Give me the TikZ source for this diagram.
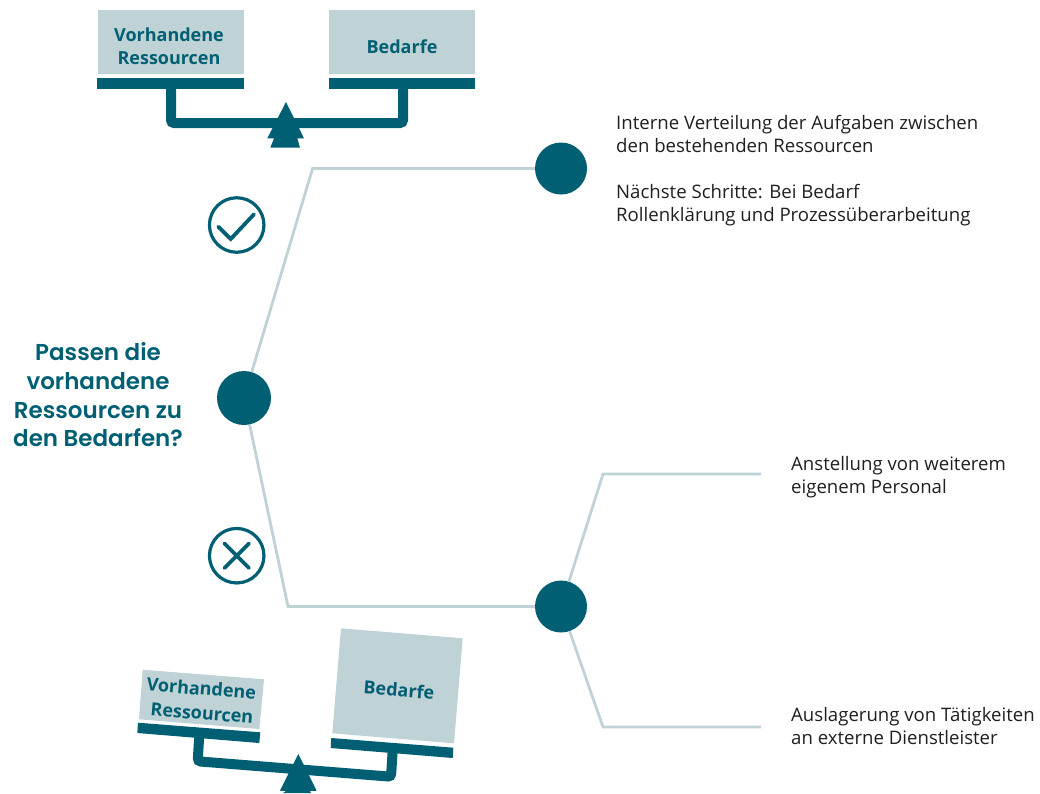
\documentclass[tikz,border=0pt]{standalone}
\usepackage{fontspec}
\setmainfont{Open Sans}
\newfontfamily\headfont{Poppins SemiBold}
\definecolor{teal}{HTML}{005F73}
\definecolor{pale}{HTML}{BFD2D6}
\begin{document}
\begin{tikzpicture}[x=1pt,y=-1pt,
  dot/.style={circle,fill=teal,inner sep=0pt,minimum size=#1},
  edge/.style={draw=pale,line width=2.8pt,line join=miter},
  beam/.style={draw=teal,line width=10pt,rounded corners=3pt},
  ring/.style={circle,draw=teal,line width=3.2pt,inner sep=0pt,minimum size=54.5pt},
  glyph/.style={draw=teal,line width=3.8pt,line cap=round,line join=miter},
  body/.style={anchor=north west,align=left,inner sep=0pt,font=\fontsize{18.6}{23}\selectfont,text=black!88},
  boxlabel/.style={align=center,text=teal,inner sep=0pt,font=\fontsize{18}{23}\selectfont\bfseries},
  weight/.style={fill=pale},
  plank/.style={fill=teal},
  pivot/.style={fill=teal}]
\path[use as bounding box] (0,0) rectangle (1040,793);

% top balance
\fill[weight] (98,10) rectangle (244,74);
\fill[weight] (329,10) rectangle (475,74);
\fill[plank] (97,78) rectangle (244,89);
\fill[plank] (329,78) rectangle (475,89);
\draw[beam] (171,85) -- (171,123) -- (403,123) -- (403,85);
\fill[pivot] (286,102) -- (304,138.3) -- (297.3,138.3) -- (300,147.7) -- (270.3,147.7) -- (274,138.3) -- (267.3,138.3) -- cycle;
\node[boxlabel] (v1) at (169,46.5) {Vorhandene\\Ressourcen};
\node[boxlabel] (b1) at (402,46.5) {Bedarfe};

% bottom balance
\fill[weight] (142.7,669.7) -- (264,679.3) -- (259.3,729) -- (139,719.3) -- cycle;
\fill[weight] (341,628.3) -- (462.7,638.3) -- (454,743.3) -- (332.3,733.3) -- cycle;
\fill[plank] (138,722.7) -- (260.3,732.3) -- (259.3,743) -- (137.3,733) -- cycle;
\fill[plank] (331.3,738) -- (453.3,747.7) -- (452.7,758) -- (330.7,748) -- cycle;
\draw[beam] (199.3,735) -- (197.7,761.3) -- (391,776.7) -- (392.7,750);
\fill[pivot] (298.3,754) -- (316.7,790.7) -- (310,791) -- (311,793) -- (283,793) -- (286,791) -- (280,790.7) -- cycle;
\node[boxlabel,rotate=-4.6,font=\fontsize{18}{24.5}\selectfont\bfseries] (v2) at (200.5,700.5) {Vorhandene\\\hspace*{5pt}Ressourcen};
\node[boxlabel,rotate=-4.6] (b2) at (399,690) {Bedarfe};

% decision tree
\node[dot=54pt] (q) at (244,398) {};
\node[dot=52pt] (yes) at (561,168.5) {};
\node[dot=52pt] (no) at (561,606.5) {};
\coordinate (k1) at (312.6,168.5);
\coordinate (k2) at (288,606.5);
\coordinate (k3) at (603,474);
\coordinate (k4) at (603,727);
\coordinate (e1) at (761,474);
\coordinate (e2) at (761,727);
\draw[edge] (q) -- (k1) -- (yes);
\draw[edge] (q) -- (k2) -- (no);
\draw[edge] (no) -- (k3) -- (e1);
\draw[edge] (no) -- (k4) -- (e2);

% yes / no marks
\node[ring] (rc) at (236.7,225) {};
\draw[glyph] (218.3,226.7) -- (230.7,239) -- (254,214.3);
\node[ring] (rx) at (236.7,555.7) {};
\draw[glyph] (224.5,543.5) -- (249,568);
\draw[glyph] (249,543.5) -- (224.5,568);

% texts
\node[align=center,text=teal,inner sep=0pt,font=\headfont\fontsize{23}{28.7}\selectfont] (title) at (98,395)
  {Passen die\\vorhandene\\Ressourcen zu\\den Bedarfen?};
\node[body] (t1) at (616,115) {Interne Verteilung der Aufgaben zwischen\\den bestehenden Ressourcen\\[23pt]Nächste Schritte: Bei Bedarf\\Rollenklärung und Prozessüberarbeitung};
\node[body] (t2) at (791,456) {Anstellung von weiterem\\eigenem Personal};
\node[body] (t3) at (791,707.5) {Auslagerung von Tätigkeiten\\an externe Dienstleister};
\end{tikzpicture}
\end{document}
